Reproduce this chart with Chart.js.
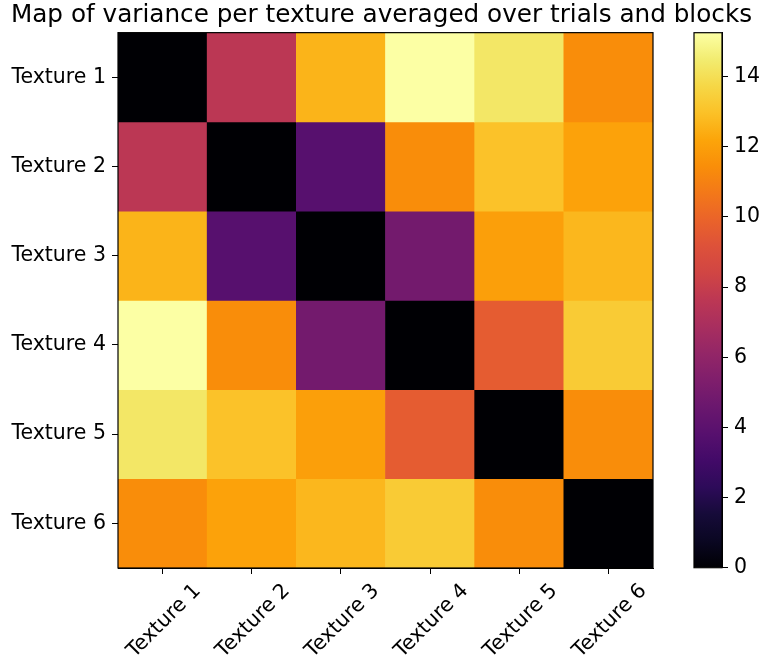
<!DOCTYPE html>
<html>
<head>
<meta charset="utf-8">
<script src="https://cdn.jsdelivr.net/npm/chart.js@4"></script>
<style>
  body { margin: 0; background: #fff; }
  #wrap { position: relative; width: 763px; height: 658px; }
  #heatBox { position: absolute; left: 0; top: 0; width: 763px; height: 658px; }
  #barBox { position: absolute; left: 680px; top: 0; width: 83px; height: 658px; }
</style>
</head>
<body>
<div id="wrap">
  <div id="heatBox"><canvas id="heat"></canvas></div>
  <div id="barBox"><canvas id="cbar"></canvas></div>
</div>
<script>
// data
var textures = ['Texture 1', 'Texture 2', 'Texture 3', 'Texture 4', 'Texture 5', 'Texture 6'];
var row1 = [0.0, 7.6, 12.6, 15.25, 14.3, 11.4];
var row2 = [7.6, 0.0, 3.8, 11.4, 13.0, 12.1];
var row3 = [12.6, 3.8, 0.0, 4.9, 12.0, 12.7];
var row4 = [15.25, 11.4, 4.9, 0.0, 9.6, 13.3];
var row5 = [14.3, 13.0, 12.0, 9.6, 0.0, 11.4];
var row6 = [11.4, 12.1, 12.7, 13.3, 11.4, 0.0];
var rows = [row1, row2, row3, row4, row5, row6];
var cbTicks = [0, 2, 4, 6, 8, 10, 12, 14];

var vmin = 0;
var vmax = 15.25;

// inferno colormap stops
var inferno = [
    [0.00, [0, 0, 4]], [0.05, [10, 7, 34]], [0.10, [22, 11, 57]], [0.15, [45, 11, 89]],
    [0.20, [66, 10, 104]], [0.25, [87, 16, 110]], [0.30, [106, 23, 110]], [0.35, [127, 30, 108]],
    [0.40, [147, 38, 103]], [0.45, [168, 46, 95]], [0.50, [188, 55, 84]], [0.55, [208, 69, 68]],
    [0.60, [221, 81, 58]], [0.65, [234, 99, 42]], [0.70, [243, 120, 25]], [0.75, [249, 142, 9]],
    [0.80, [252, 165, 10]], [0.85, [251, 193, 39]], [0.90, [246, 215, 70]], [0.95, [242, 236, 112]],
    [1.00, [252, 255, 164]]
];

function colorFor(v) {
    var t = (v - vmin) / (vmax - vmin);
    t = Math.max(0, Math.min(1, t));
    for (var i = 1; i < inferno.length; i++) {
        if (t <= inferno[i][0]) {
            var a = inferno[i - 1], b = inferno[i];
            var f = (t - a[0]) / (b[0] - a[0]);
            var c = [0, 1, 2].map(function (k) { return Math.round(a[1][k] + f * (b[1][k] - a[1][k])); });
            return 'rgb(' + c.join(',') + ')';
        }
    }
    return 'rgb(252,255,164)';
}

var font = { family: 'DejaVu Sans', size: 20.5 };

var frame = {
    id: 'frame',
    afterDraw: function (chart) {
        var a = chart.chartArea, c = chart.ctx;
        c.save();
        c.strokeStyle = '#000';
        c.lineWidth = 1.2;
        c.strokeRect(a.left, a.top, a.right - a.left, a.bottom - a.top);
        c.restore();
    }
};

var datasets = rows.map(function (r, i) {
    return {
        data: r.map(function () { return [i - 0.5, i + 0.5]; }),
        backgroundColor: r.map(colorFor),
        borderWidth: 0,
        grouped: false,
        barPercentage: 1,
        categoryPercentage: 1
    };
});

new Chart(document.getElementById('heat'), {
    type: 'bar',
    data: { labels: textures, datasets: datasets },
    options: {
        responsive: true,
        maintainAspectRatio: false,
        animation: false,
        layout: { padding: 0 },
        plugins: {
            legend: { display: false },
            tooltip: { enabled: false },
            title: {
                display: true,
                text: 'Map of variance per texture averaged over trials and blocks',
                color: '#000',
                font: { family: 'DejaVu Sans', size: 24.7, weight: 'normal' },
                padding: { top: 1, bottom: 2 }
            }
        },
        scales: {
            x: {
                type: 'category',
                offset: true,
                grid: { display: true, offset: false, drawOnChartArea: false, drawTicks: true, tickLength: 6, color: '#000' },
                border: { display: true, color: '#000' },
                ticks: { color: '#000', font: font, minRotation: 45, maxRotation: 45, padding: 5, labelOffset: 35, autoSkip: false },
                afterFit: function (s) { s.height = 90; }
            },
            y: {
                type: 'linear',
                reverse: true,
                min: -0.5,
                max: 5.5,
                grid: { display: true, drawOnChartArea: false, drawTicks: true, tickLength: 6, color: '#000' },
                border: { display: true, color: '#000' },
                ticks: { color: '#000', font: font, padding: 6, callback: function (v) { return textures[v]; } },
                afterBuildTicks: function (s) { s.ticks = textures.map(function (_, i) { return { value: i }; }); },
                afterFit: function (s) { s.width = 118; }
            },
            // empty axis that only reserves room for the colorbar on the right
            room: {
                type: 'linear',
                position: 'right',
                display: true,
                grid: { display: false },
                border: { display: false },
                ticks: { display: false },
                afterFit: function (s) { s.width = 110; }
            }
        }
    },
    plugins: [frame]
});

new Chart(document.getElementById('cbar'), {
    type: 'bar',
    data: {
        labels: ['scale'],
        datasets: [{
            data: [[vmin, vmax]],
            borderWidth: 0,
            barPercentage: 1,
            categoryPercentage: 1,
            backgroundColor: function (ctx) {
                var area = ctx.chart.chartArea;
                if (!area) return '#000';
                var g = ctx.chart.ctx.createLinearGradient(0, area.bottom, 0, area.top);
                inferno.forEach(function (s) { g.addColorStop(s[0], 'rgb(' + s[1].join(',') + ')'); });
                return g;
            }
        }]
    },
    options: {
        responsive: true,
        maintainAspectRatio: false,
        animation: false,
        layout: { padding: { left: 14, right: 0, top: 32.7, bottom: 90.3 } },
        plugins: { legend: { display: false }, tooltip: { enabled: false } },
        scales: {
            x: { display: false },
            y: {
                position: 'right',
                min: vmin,
                max: vmax,
                grid: { display: true, drawOnChartArea: false, drawTicks: true, tickLength: 6, color: '#000' },
                border: { display: true, color: '#000' },
                ticks: { color: '#000', font: font, padding: 6 },
                afterBuildTicks: function (s) { s.ticks = cbTicks.map(function (v) { return { value: v }; }); },
                afterFit: function (s) { s.width = 41; }
            }
        }
    },
    plugins: [frame]
});
</script>
</body>
</html>
